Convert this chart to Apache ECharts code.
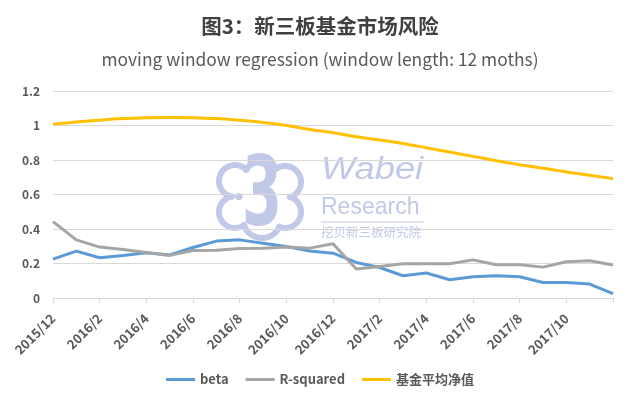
<!DOCTYPE html>
<html>
<head>
<meta charset="utf-8">
<script src="https://cdn.jsdelivr.net/npm/echarts@6/dist/echarts.min.js"></script>
<style>html,body{margin:0;padding:0;background:#fff}#c{width:640px;height:399px}</style>
</head>
<body>
<div id="c"></div>
<script>
var categories = ['2015/12','2016/1','2016/2','2016/3','2016/4','2016/5','2016/6','2016/7','2016/8','2016/9','2016/10','2016/11',
  '2016/12','2017/1','2017/2','2017/3','2017/4','2017/5','2017/6','2017/7','2017/8','2017/9','2017/10','2017/11','2017/12'];
var beta = [0.225,0.272,0.233,0.247,0.262,0.250,0.293,0.330,0.337,0.318,0.298,0.272,
  0.260,0.206,0.177,0.129,0.145,0.106,0.123,0.129,0.123,0.090,0.090,0.081,0.025];
var rSquared = [0.443,0.337,0.295,0.281,0.264,0.247,0.275,0.277,0.287,0.289,0.295,0.289,
  0.314,0.168,0.183,0.198,0.198,0.198,0.221,0.193,0.193,0.179,0.210,0.216,0.191];
var fundNav = [1.008,1.020,1.031,1.040,1.045,1.047,1.045,1.040,1.030,1.018,1.000,0.977,
  0.958,0.935,0.916,0.896,0.871,0.846,0.821,0.796,0.773,0.752,0.730,0.711,0.692];
var seriesNames = ['beta','R-squared','基金平均净值'];
var yTicks = {min:0, max:1.2, interval:0.2};

var FONT = '"Noto Sans CJK SC","Noto Sans",sans-serif';
var WM = '#c2c8e7';

// watermark logo outline: union of circles, sampled
function cloudOutline(circles){
  var els = [];
  circles.forEach(function(c, idx){
    var seg = [];
    var N = 180;
    for (var k=0;k<=N;k++){
      var a = k/N*Math.PI*2;
      var px = c[0]+c[2]*Math.cos(a), py = c[1]+c[2]*Math.sin(a);
      var inside = circles.some(function(o, j){
        if (j===idx) return false;
        var dx=px-o[0], dy=py-o[1];
        return Math.sqrt(dx*dx+dy*dy) < o[2]-0.5;
      });
      if (!inside) seg.push([px,py]);
      else { if (seg.length>1) els.push(seg); seg=[]; }
    }
    if (seg.length>1) els.push(seg);
  });
  return els.map(function(pts){
    return {type:'polyline', silent:true, z:-10, shape:{points:pts}, style:{stroke:WM, lineWidth:6, fill:null, lineCap:'round'}};
  });
}
var logoCircles = [[262,180,19],[262,219,19],[235,181,16],[235,212,16],[285,182,16],[285,212,16],[261,197,22]];
var graphics = cloudOutline(logoCircles).concat([
  {type:'text', silent:true, z:-10, x:262, y:200, scaleX:0.6, style:{text:'3', x:0, y:0, textAlign:'center', textVerticalAlign:'middle', font:'bold 96px "DejaVu Sans"', fill:WM}},
  {type:'text', silent:true, z:-10, x:321, y:155, scaleX:1.17, style:{text:'Wabei', font:'italic 31px "Liberation Sans"', fill:WM, textVerticalAlign:'top'}},
  {type:'text', silent:true, z:-10, x:321, y:196, style:{text:'Research', font:'23px "Liberation Sans"', fill:WM, textVerticalAlign:'top'}},
  {type:'line', silent:true, z:-10, shape:{x1:321,y1:222,x2:424,y2:222}, style:{stroke:WM, lineWidth:1}},
  {type:'text', silent:true, z:-10, x:321, y:226, style:{text:'挖贝新三板研究院', font:'12.5px "Noto Sans CJK SC"', fill:WM, textVerticalAlign:'top'}}
]);

var chart = echarts.init(document.getElementById('c'), null, {renderer:'canvas'});
chart.setOption({
  animation:false,
  backgroundColor:'#fff',
  title:[
    {text:'图3：新三板基金市场风险', left:'center', top:11, textStyle:{fontFamily:FONT, fontSize:20.5, fontWeight:'bold', color:'#404040'}},
    {text:'moving window regression (window length: 12 moths)', left:'center', top:46, textStyle:{fontFamily:FONT, fontSize:17.4, fontWeight:'normal', color:'#595959'}}
  ],
  graphic: graphics,
  legend:{
    data:seriesNames, top:368, left:'center', icon:'rect', itemWidth:29, itemHeight:3, itemGap:17,
    textStyle:{fontFamily:FONT, fontSize:13, fontWeight:'bold', color:'#595959'}
  },
  grid:{left:53, right:27, top:91, bottom:101, containLabel:false},
  xAxis:{
    type:'category', data:categories, boundaryGap:false,
    axisLine:{lineStyle:{color:'#d9d9d9'}},
    axisTick:{interval:1, length:5, lineStyle:{color:'#d9d9d9'}},
    axisLabel:{interval:function(i){return i%2===0 && i<24;}, rotate:45, margin:18, fontFamily:FONT, fontSize:13, fontWeight:'bold', color:'#595959'}
  },
  yAxis:{
    type:'value', min:yTicks.min, max:yTicks.max, interval:yTicks.interval,
    axisLine:{show:false}, axisTick:{show:false},
    splitLine:{lineStyle:{color:'#d9d9d9'}},
    axisLabel:{margin:13, fontFamily:FONT, fontSize:12, fontWeight:'bold', color:'#595959'}
  },
  series:[
    {name:seriesNames[0], type:'line', data:beta, symbol:'none', lineStyle:{width:3, color:'#5B9BD5'}, itemStyle:{color:'#5B9BD5'}},
    {name:seriesNames[1], type:'line', data:rSquared, symbol:'none', lineStyle:{width:3, color:'#A5A5A5'}, itemStyle:{color:'#A5A5A5'}},
    {name:seriesNames[2], type:'line', data:fundNav, symbol:'none', smooth:0.3, lineStyle:{width:3, color:'#FFC000'}, itemStyle:{color:'#FFC000'}}
  ]
});
</script>
</body>
</html>
